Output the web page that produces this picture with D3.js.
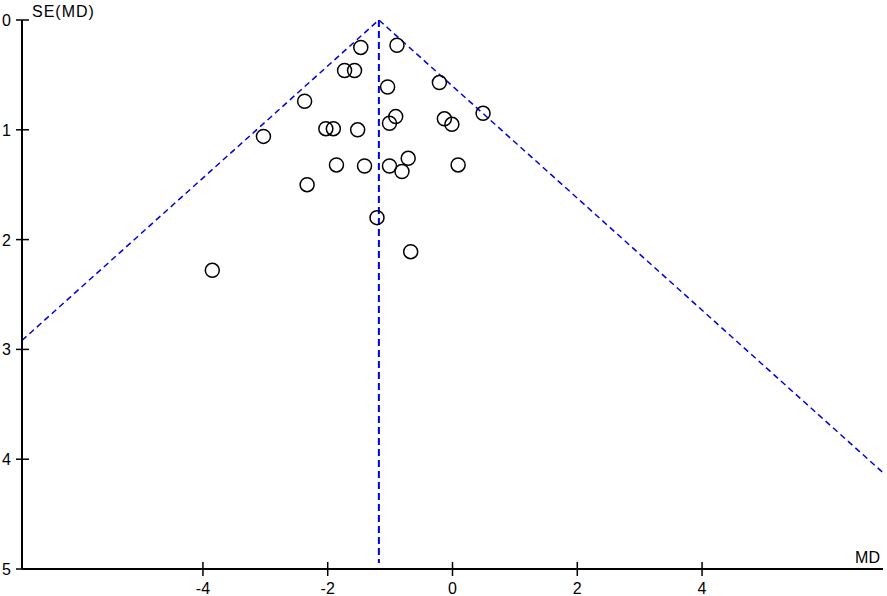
<!DOCTYPE html>
<html>
<head>
<meta charset="utf-8">
<script src="https://cdn.jsdelivr.net/npm/d3@7"></script>
<style>
    body { margin: 0; background: #fff; }
    svg text { font-family: "Liberation Sans", Arial, sans-serif; font-size: 16px; fill: #000; }
</style>
</head>
<body>
<svg id="chart" width="887" height="596"></svg>
<script>
"use strict";

// Study estimates
var md = [-1.47, -0.89, -1.73, -1.57, -1.04, -0.21, -2.37, 0.49, -3.03, -2.03, -1.91,
          -1.52, -1.01, -0.91, -0.13, -0.01, -1.86, -1.41, -1.01, -0.71, -0.81, 0.09,
          -2.33, -1.21, -0.67, -3.85];
var se = [0.25, 0.23, 0.46, 0.46, 0.61, 0.57, 0.74, 0.85, 1.06, 0.99, 0.99,
          1.00, 0.94, 0.88, 0.90, 0.95, 1.32, 1.33, 1.33, 1.26, 1.38, 1.32,
          1.50, 1.80, 2.11, 2.28];
var pooled = -1.18;
var xTicks = [-4, -2, 0, 2, 4];
var yTicks = [0, 1, 2, 3, 4, 5];

var svg = d3.select("#chart");

var plotLeft = 22, plotRight = 883, plotTop = 20, plotBottom = 569;

var x = d3.scaleLinear().domain([-6.9, 6.9]).range([plotLeft, plotRight]);
var y = d3.scaleLinear().domain([0, 5]).range([plotTop, plotBottom]);

// funnel lines (pooled +/- 1.96 SE), clipped at the axis ends
var seLeft = (pooled - x.domain()[0]) / 1.96;
var seRight = (x.domain()[1] - pooled) / 1.96;

svg.append("path")
    .attr("d", d3.line()([
        [x(x.domain()[0]), y(seLeft)],
        [x(pooled), y(0)],
        [x(x.domain()[1]), y(seRight)]
    ]))
    .attr("fill", "none")
    .attr("stroke", "#0000e0")
    .attr("stroke-width", 1.5)
    .attr("stroke-dasharray", "6,4")
;

svg.append("line")
    .attr("x1", x(pooled)).attr("x2", x(pooled))
    .attr("y1", y(0)).attr("y2", y(5) - 6)
    .attr("stroke", "#0000e0")
    .attr("stroke-width", 2)
    .attr("stroke-dasharray", "7,4")
;

// axes
svg.append("line")
    .attr("x1", plotLeft).attr("x2", plotLeft)
    .attr("y1", plotTop).attr("y2", plotBottom)
    .attr("stroke", "#000").attr("stroke-width", 2)
;
svg.append("line")
    .attr("x1", plotLeft).attr("x2", plotRight)
    .attr("y1", plotBottom).attr("y2", plotBottom)
    .attr("stroke", "#000").attr("stroke-width", 2)
;

var yt = svg.selectAll(".ytick").data(yTicks).enter().append("g")
    .attr("transform", function(d){return "translate(0," + y(d) + ")";})
;
yt.append("line")
    .attr("x1", plotLeft - 6).attr("x2", plotLeft + 7)
    .attr("stroke", "#000").attr("stroke-width", 1.5)
;
yt.append("text")
    .attr("x", 11).attr("y", 6)
    .attr("text-anchor", "end")
    .text(function(d){return d;})
;

var xt = svg.selectAll(".xtick").data(xTicks).enter().append("g")
    .attr("transform", function(d){return "translate(" + x(d) + ",0)";})
;
xt.append("line")
    .attr("y1", plotBottom - 7).attr("y2", plotBottom + 7)
    .attr("stroke", "#000").attr("stroke-width", 1.5)
;
xt.append("text")
    .attr("y", 594)
    .attr("text-anchor", "middle")
    .text(function(d){return d < 0 ? "-" + Math.abs(d) : d;})
;

svg.append("text").attr("x", 32).attr("y", 17).attr("letter-spacing", 1).text("SE(MD)");
svg.append("text").attr("x", 880).attr("y", 563).attr("text-anchor", "end").text("MD");

// studies
svg.selectAll("circle").data(md).enter().append("circle")
    .attr("cx", function(d){return x(d);})
    .attr("cy", function(d, i){return y(se[i]);})
    .attr("r", 7)
    .attr("fill", "none")
    .attr("stroke", "#000")
    .attr("stroke-width", 1.5)
;
</script>
</body>
</html>
